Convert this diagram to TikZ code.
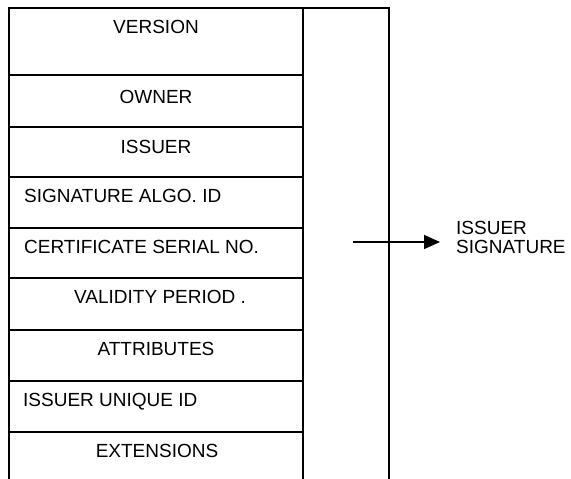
\documentclass[tikz,border=0pt]{standalone}
\usepackage{fontspec}
\setmainfont{Liberation Sans}
\usetikzlibrary{arrows.meta}

\begin{document}
\begin{tikzpicture}[x=1pt,y=-1pt,
    frame/.style={line width=1.8pt},
    field/.style={inner sep=0pt,font=\fontsize{19}{16}\selectfont},
    ctr/.style={field,anchor=base},
    lft/.style={field,anchor=base west},
    sigarrow/.style={line width=1.7pt,-{Triangle[length=16pt,width=14pt]}}]
  \useasboundingbox (0,0) rectangle (571,479);

  % outer frame: open at the bottom
  \draw[frame] (9,479) -- (9,8) -- (389,8) -- (389,479);
  \draw[frame] (303,8) -- (303,479);

  % field separators of the left column
  \foreach \y in {75,127,177,228,278,330,381,432}
    \draw[frame] (9,\y) -- (303,\y);

  % field names
  \node[ctr] (version)  at (156,33)  {VERSION};
  \node[ctr] (owner)    at (156,103) {OWNER};
  \node[ctr] (issuer)   at (156,153) {ISSUER};
  \node[lft] (algo)     at (24,202)  {SIGNATURE ALGO. ID};
  \node[lft] (serial)   at (24,253)  {CERTIFICATE SERIAL NO.};
  \node[lft] (validity) at (74,303)  {VALIDITY PERIOD .};
  \node[ctr] (attrs)    at (156,355) {ATTRIBUTES};
  \node[lft] (uid)      at (23,406)  {ISSUER UNIQUE ID};
  \node[ctr] (ext)      at (157,457) {EXTENSIONS};

  % signature over the whole structure
  \node[field,anchor=west,align=left,font=\fontsize{19}{19}\selectfont] (sig) at (456,237) {ISSUER\\SIGNATURE};
  \coordinate (sigfrom) at (353,242);
  \draw[sigarrow,shorten >=16pt] (sigfrom) -- (sigfrom -| sig.west);
\end{tikzpicture}
\end{document}
